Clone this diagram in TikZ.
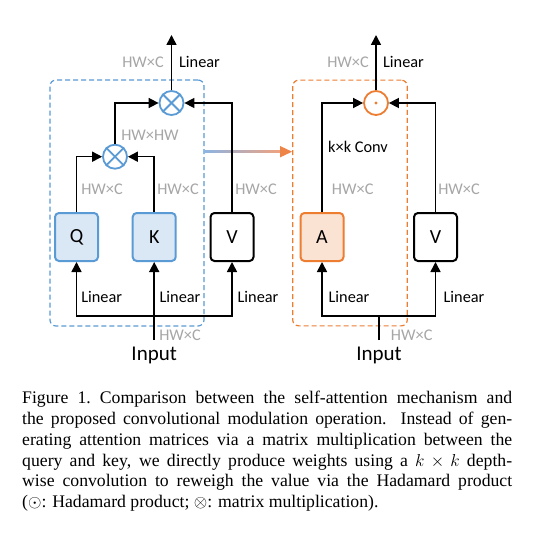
\documentclass[tikz,border=0pt]{standalone}
\usepackage{fontspec}
\setmainfont{Liberation Serif}
\newfontfamily\diafont{Carlito}
\usetikzlibrary{arrows.meta,calc}
\definecolor{myblue}{HTML}{5B9BD5}
\definecolor{myorange}{HTML}{ED7D31}
\definecolor{lblue}{HTML}{DAE8F6}
\definecolor{lorange}{HTML}{FBE3D4}
\definecolor{tgray}{HTML}{A6A6A6}
\definecolor{gblue}{HTML}{8DB4E2}
\definecolor{gorange}{HTML}{F2A27C}
\definecolor{tiporange}{HTML}{EE8447}
\tikzset{
  lbl/.style={font=\diafont\fontsize{16.3}{19}\selectfont, inner sep=0pt},
  glbl/.style={lbl, text=tgray},
  blockbox/.style={draw, rounded corners=4pt, line width=2pt, minimum width=43pt, minimum height=48pt, inner sep=0pt, font=\diafont\fontsize{20}{24}\selectfont},
  mulop/.style={circle, draw=myblue, line width=1.8pt, fill=white, minimum size=24pt, inner sep=0pt},
  hadop/.style={circle, draw=myorange, line width=1.8pt, fill=white, minimum size=24pt, inner sep=0pt},
  dashbox/.style={rounded corners=6pt, line width=1.2pt, dash pattern=on 5pt off 3pt, inner sep=0pt},
  arr/.style={line width=1.6pt, -{Triangle[length=10pt,width=10pt]}},
  ln/.style={line width=1.6pt},
  inlbl/.style={font=\diafont\fontsize{21}{24}\selectfont, inner sep=0pt, anchor=base}
}
\begin{document}
\begin{tikzpicture}[x=1pt,y=-1pt]
\useasboundingbox (0,0) rectangle (534,540);
\fill[white] (0,0) rectangle (534,540);

% dashed boxes
\node[dashbox, draw=myblue, minimum width=154pt, minimum height=246pt] (B1) at (127,203) {};
\node[dashbox, draw=myorange, minimum width=114.6pt, minimum height=245.7pt] (B2) at (350,203) {};

% gradient connector
\coordinate (g1) at ($(B1.east)+(0,-51.3)$);
\coordinate (g2) at ($(B2.west)+(0,-51.3)$);
\shade[left color=gblue, right color=gorange] ($(g1)+(0,-0.7)$) rectangle ($(g2)+(-10,0.7)$);
\draw[line width=1.4pt, tiporange, -{Triangle[length=12pt,width=11pt]}] ($(g2)+(-11,0)$) -- (g2);

% left: self-attention
\node[blockbox, draw=myblue, fill=lblue] (Q) at (76.5,237) {Q};
\node[blockbox, draw=myblue, fill=lblue] (K) at (154.2,237) {K};
\node[blockbox, draw=black, fill=white] (V1) at (232,237) {V};
\node[mulop] (m1) at (115,156.7) {};
\node[mulop] (m2) at (171.5,103) {};
\foreach \m in {m1,m2}{
  \draw[myblue, line width=1.8pt] (\m.north east) -- (\m.south west);
  \draw[myblue, line width=1.8pt] (\m.north west) -- (\m.south east);
}
\coordinate (o1) at (171.5,35);
\draw[arr] (m2.north) -- (o1);
\draw[arr] (m1.north) |- (m2.west);
\draw[arr] (V1.north) |- (m2.east);
\draw[arr] (Q.north) |- (m1.west);
\draw[arr] (K.north) |- (m1.east);
\coordinate (s1) at (154.2,340);
\coordinate (j1) at (154.2,316);
\draw[arr] (s1) -- (K.south);
\draw[arr] (j1) -| (Q.south);
\draw[arr] (j1) -| (V1.south);
\node[inlbl] (in1) at (154.2,360.7) {Input};

\node[glbl] (t1) at (143,62) {HW×C};
\node[lbl] (t2) at (199.5,62) {Linear};
\node[glbl] (t3) at (150,135) {HW×HW};
\node[glbl] (t4) at (102,189) {HW×C};
\node[glbl] (t5) at (178,189) {HW×C};
\node[glbl] (t6) at (256,189) {HW×C};
\node[lbl] (t7) at (101.7,297) {Linear};
\node[lbl] (t8) at (180,297) {Linear};
\node[lbl] (t9) at (258,297) {Linear};
\node[glbl] (t10) at (180,335.7) {HW×C};

% right: convolutional modulation
\node[blockbox, draw=myorange, fill=lorange] (A) at (322,237) {A};
\node[blockbox, draw=black, fill=white] (V2) at (435.5,237) {V};
\node[hadop] (h) at (376,103) {};
\fill[myorange] (h.center) circle (1.7);
\coordinate (o2) at (376,35);
\draw[arr] (h.north) -- (o2);
\draw[arr] (A.north) |- (h.west);
\draw[arr] (V2.north) |- (h.east);
\coordinate (s2) at (379,340);
\coordinate (j2) at (379,316);
\draw[ln] (s2) -- (j2);
\draw[arr] (j2) -| (A.south);
\draw[arr] (j2) -| (V2.south);
\node[inlbl] (in2) at (379,360.7) {Input};

\node[glbl] (r1) at (348,62) {HW×C};
\node[lbl] (r2) at (403.5,62) {Linear};
\node[lbl] (r3) at (358,147) {k×k Conv};
\node[glbl] (r4) at (352.7,189) {HW×C};
\node[glbl] (r5) at (459,189) {HW×C};
\node[lbl] (r6) at (349,297) {Linear};
\node[lbl] (r7) at (464,297) {Linear};
\node[glbl] (r8) at (411.7,335.7) {HW×C};

% caption
\node[anchor=base west, text width=490pt, align=justify, inner sep=0pt,
      font=\fontsize{17.7}{20.9}\selectfont] (cap) at (22,403.3)
{\tolerance=10000\hyphenpenalty=10000 Figure 1.\ Comparison between the self-attention mechanism and\linebreak
the proposed convolutional modulation operation. Instead of gen-\linebreak
erating attention matrices via a matrix multiplication between the\linebreak
query and key, we directly produce weights using a $k\times k$ depth-\linebreak
wise convolution to reweigh the value via the Hadamard product\linebreak
($\odot$: Hadamard product; $\otimes$: matrix multiplication).};
\end{tikzpicture}
\end{document}
